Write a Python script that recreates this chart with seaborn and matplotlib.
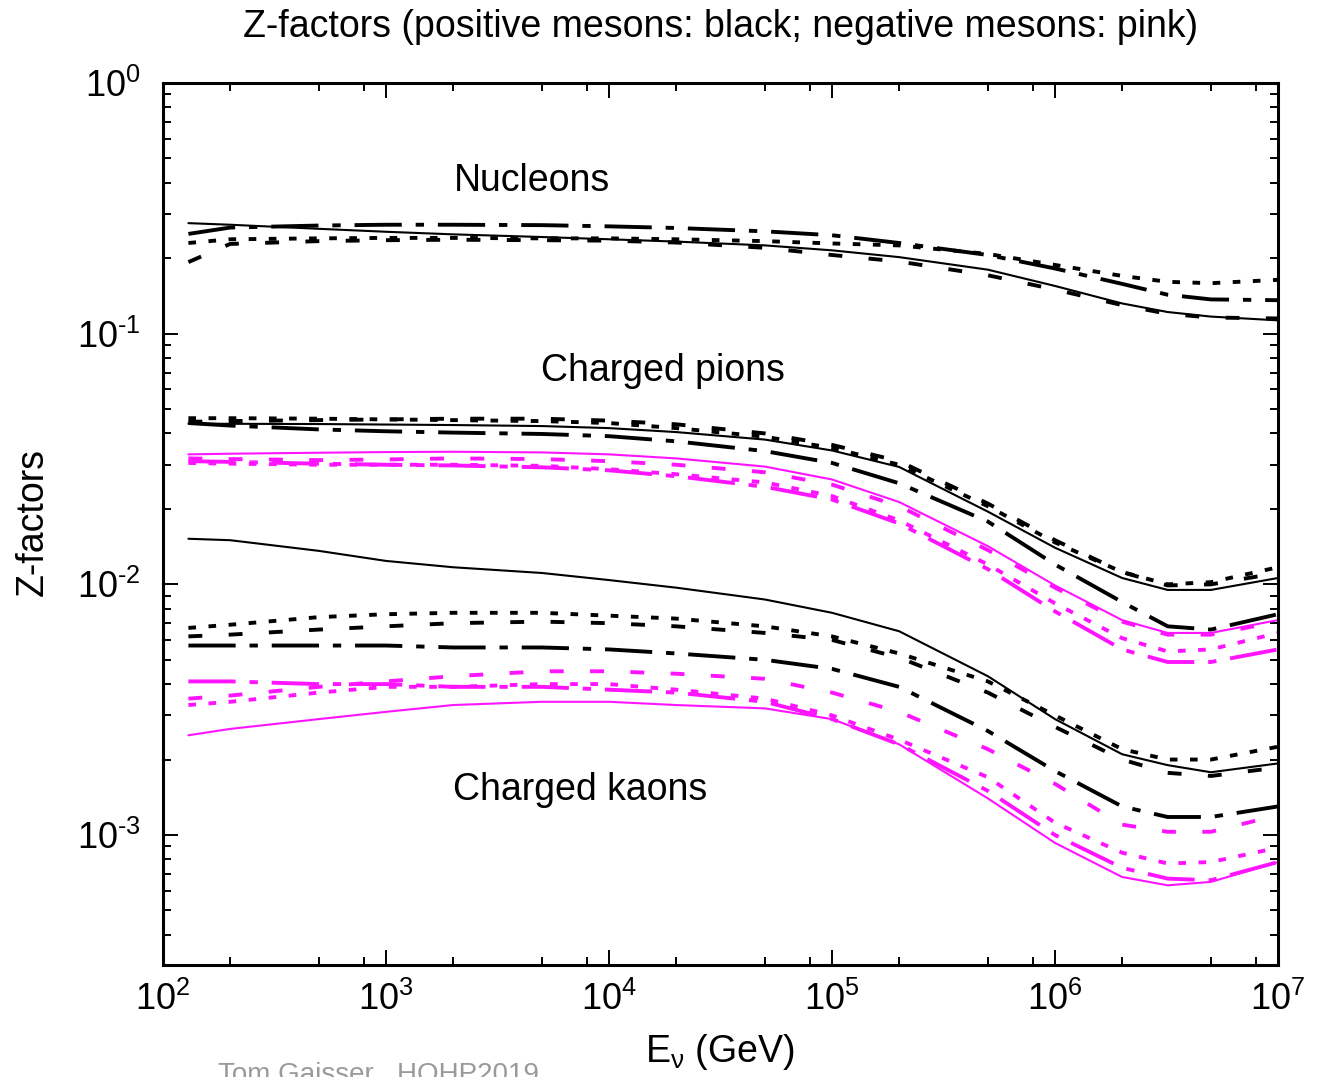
import numpy as np
import pandas as pd
import matplotlib
matplotlib.use("Agg")
import matplotlib.pyplot as plt
from matplotlib.ticker import LogLocator, FuncFormatter, NullFormatter
import seaborn as sns

# Neutrino energy grid (GeV)
energy = [1.3e2, 2e2, 5e2, 1e3, 2e3, 5e3, 1e4, 2e4, 5e4, 1e5, 2e5, 5e5,
          1e6, 2e6, 3.2e6, 5e6, 1e7]

# Nucleons (black)
nuc_solid = [0.276, 0.272, 0.262, 0.255, 0.249, 0.243, 0.238, 0.233, 0.225, 0.215,
             0.202, 0.180, 0.155, 0.132, 0.122, 0.117, 0.113]
nuc_dashed = [0.193, 0.228, 0.234, 0.236, 0.237, 0.236, 0.235, 0.231, 0.220, 0.206,
              0.194, 0.171, 0.150, 0.130, 0.120, 0.116, 0.115]
nuc_dotted = [0.230, 0.238, 0.240, 0.241, 0.241, 0.240, 0.240, 0.238, 0.234, 0.229,
              0.225, 0.208, 0.188, 0.170, 0.161, 0.159, 0.164]
nuc_dashdot = [0.250, 0.265, 0.270, 0.272, 0.272, 0.271, 0.268, 0.264, 0.256, 0.247,
               0.230, 0.206, 0.182, 0.158, 0.143, 0.137, 0.136]

# Charged pions, positive (black)
pip_solid = [0.0437, 0.0437, 0.0436, 0.0434, 0.0432, 0.0428, 0.0420, 0.0405, 0.0378,
             0.0342, 0.0294, 0.0195, 0.0140, 0.0106, 0.0095, 0.0095, 0.0106]
pip_dashed = [0.0445, 0.0448, 0.0452, 0.0455, 0.0458, 0.0458, 0.0450, 0.0435, 0.0400,
              0.0360, 0.0310, 0.0210, 0.0150, 0.0112, 0.0099, 0.0100, 0.0111]
pip_dotted = [0.0460, 0.0460, 0.0458, 0.0455, 0.0452, 0.0448, 0.0440, 0.0420, 0.0388,
              0.0350, 0.0300, 0.0205, 0.0147, 0.0112, 0.0100, 0.0102, 0.0117]
pip_dashdot = [0.0440, 0.0430, 0.0415, 0.0408, 0.0403, 0.0398, 0.0390, 0.0372, 0.0340,
               0.0305, 0.0253, 0.0178, 0.0120, 0.0085, 0.0068, 0.0066, 0.0076]

# Charged pions, negative (pink)
pim_solid = [0.0330, 0.0332, 0.0335, 0.0337, 0.0338, 0.0336, 0.0330, 0.0318, 0.0295,
             0.0262, 0.0213, 0.0142, 0.0099, 0.0072, 0.0064, 0.0064, 0.0072]
pim_dashed = [0.0318, 0.0316, 0.0313, 0.0315, 0.0318, 0.0316, 0.0310, 0.0300, 0.0280,
              0.0250, 0.0205, 0.0137, 0.0097, 0.0071, 0.0063, 0.0063, 0.0071]
pim_dotted = [0.0305, 0.0303, 0.0300, 0.0300, 0.0300, 0.0297, 0.0288, 0.0275, 0.0255,
              0.0225, 0.0180, 0.0120, 0.0084, 0.0061, 0.0054, 0.0055, 0.0064]
pim_dashdot = [0.0310, 0.0308, 0.0303, 0.0300, 0.0298, 0.0293, 0.0285, 0.0270, 0.0245,
               0.0218, 0.0175, 0.0115, 0.0078, 0.0055, 0.0049, 0.0049, 0.0055]

# Charged kaons, positive (black)
kp_solid = [0.0152, 0.0150, 0.0136, 0.0124, 0.0117, 0.0111, 0.0104, 0.0097, 0.0087,
            0.0077, 0.0065, 0.0043, 0.0029, 0.0021, 0.0019, 0.00178, 0.00193]
kp_dashed = [0.0062, 0.0063, 0.0066, 0.0068, 0.0070, 0.0071, 0.0070, 0.0068, 0.0064,
             0.0060, 0.0051, 0.0037, 0.0027, 0.0020, 0.00177, 0.00172, 0.00186]
kp_dotted = [0.0067, 0.0069, 0.0074, 0.0076, 0.0077, 0.0077, 0.0075, 0.0073, 0.0068,
             0.0062, 0.0053, 0.0041, 0.0030, 0.0022, 0.0020, 0.0020, 0.00225]
kp_dashdot = [0.0057, 0.0057, 0.0057, 0.0057, 0.0056, 0.0056, 0.0055, 0.0053, 0.0050,
              0.0046, 0.0039, 0.0026, 0.0018, 0.0013, 0.00118, 0.00118, 0.0013]

# Charged kaons, negative (pink)
km_solid = [0.0025, 0.00265, 0.0029, 0.0031, 0.0033, 0.0034, 0.0034, 0.0033, 0.0032,
            0.0029, 0.0023, 0.0014, 0.00093, 0.00068, 0.00063, 0.00065, 0.00078]
km_dashed = [0.0035, 0.0036, 0.0039, 0.0041, 0.0043, 0.0045, 0.0045, 0.0044, 0.0042,
             0.0037, 0.0031, 0.0022, 0.0016, 0.0011, 0.00103, 0.00103, 0.0012]
km_dotted = [0.0033, 0.0034, 0.0037, 0.0039, 0.0039, 0.0040, 0.0040, 0.0038, 0.0035,
             0.0030, 0.0024, 0.0017, 0.00112, 0.00085, 0.00077, 0.00078, 0.00089]
km_dashdot = [0.0041, 0.0041, 0.0040, 0.0040, 0.0039, 0.0039, 0.0038, 0.0037, 0.0034,
              0.0029, 0.0023, 0.0015, 0.0010, 0.00074, 0.00067, 0.00066, 0.00078]

group_labels = ["Nucleons", "Charged pions", "Charged kaons"]
x_ticks = [1e2, 1e3, 1e4, 1e5, 1e6, 1e7]
y_ticks = [1e-3, 1e-2, 1e-1, 1e0]

BLACK = "black"
PINK = "#ff14ff"

curves = [
    (nuc_solid, BLACK, "solid"), (nuc_dashed, BLACK, "dashed"),
    (nuc_dotted, BLACK, "dotted"), (nuc_dashdot, BLACK, "dashdot"),
    (pip_solid, BLACK, "solid"), (pip_dashed, BLACK, "dashed"),
    (pip_dotted, BLACK, "dotted"), (pip_dashdot, BLACK, "dashdot"),
    (pim_solid, PINK, "solid"), (pim_dashed, PINK, "dashed"),
    (pim_dotted, PINK, "dotted"), (pim_dashdot, PINK, "dashdot"),
    (kp_solid, BLACK, "solid"), (kp_dashed, BLACK, "dashed"),
    (kp_dotted, BLACK, "dotted"), (kp_dashdot, BLACK, "dashdot"),
    (km_solid, PINK, "solid"), (km_dashed, PINK, "dashed"),
    (km_dotted, PINK, "dotted"), (km_dashdot, PINK, "dashdot"),
]

sns.set_theme(style="ticks")
plt.rcParams["font.family"] = ["Liberation Sans", "DejaVu Sans"]
plt.rcParams["mathtext.fontset"] = "custom"
plt.rcParams["mathtext.rm"] = "Liberation Sans"
plt.rcParams["mathtext.it"] = "Liberation Sans:italic"
plt.rcParams["mathtext.default"] = "regular"
plt.rcParams["lines.scale_dashes"] = False
plt.rcParams["text.color"] = "black"
plt.rcParams["xtick.color"] = "black"
plt.rcParams["ytick.color"] = "black"

# line styles in points: (linewidth, dash pattern)
styles = {
    "solid": (1.5, "-"),
    "dashed": (2.8, (0, (10, 19))),
    "dotted": (2.8, (0, (5.5, 9))),
    "dashdot": (2.8, (0, (34, 10, 6, 10))),
}

W, H = 1325, 1077
fig = plt.figure(figsize=(W / 100, H / 100), dpi=100)
ax = fig.add_axes([163 / W, 1 - 965 / H, (1278 - 163) / W, (965 - 83) / H])

for vals, color, style in curves:
    lw, ls = styles[style]
    df = pd.DataFrame({"E": energy, "Z": vals})
    sns.lineplot(data=df, x="E", y="Z", ax=ax, color=color, linewidth=lw,
                 linestyle=ls, estimator=None, sort=False, legend=False)

ax.set_xscale("log")
ax.set_yscale("log")
ax.set_xlim(1e2, 1e7)
ax.set_ylim(3.03e-4, 1.0)

ax.xaxis.set_minor_locator(LogLocator(base=10, subs=[2.0, 5.0, 8.0], numticks=20))
ax.yaxis.set_minor_locator(LogLocator(base=10, subs=np.arange(2, 10), numticks=20))
ax.set_xticks(x_ticks)
ax.set_yticks(y_ticks)


def pow10(v, pos):
    e = int(round(np.log10(v)))
    sign = "\u2010" if e < 0 else ""
    return r"$10^{%s%d}$" % (sign, abs(e))


ax.xaxis.set_major_formatter(FuncFormatter(pow10))
ax.yaxis.set_major_formatter(FuncFormatter(pow10))
ax.xaxis.set_minor_formatter(NullFormatter())
ax.yaxis.set_minor_formatter(NullFormatter())

ax.tick_params(which="both", direction="in", top=True, right=True,
               colors="black", width=1.4)
ax.tick_params(which="major", length=11)
ax.tick_params(which="minor", length=5.5)
ax.tick_params(axis="x", which="major", labelsize=26, pad=12)
ax.tick_params(axis="y", which="major", labelsize=26, pad=16)
for sp in ax.spines.values():
    sp.set_linewidth(2.2)
    sp.set_color("black")
ax.set_facecolor("white")
ax.set_xlabel("")
ax.set_ylabel("")

# group labels
ax.text(4.5e3, 0.407, group_labels[0], fontsize=27, ha="center", va="center")
ax.text(1.75e4, 0.0710, group_labels[1], fontsize=27, ha="center", va="center")
ax.text(7.4e3, 0.00151, group_labels[2], fontsize=27, ha="center", va="center")

fig.text(721 / W, 1 - 27 / H,
         "Z-factors (positive mesons: black; negative mesons: pink)",
         fontsize=27, ha="center", va="center")
fig.text(33 / W, 1 - 522 / H, "Z-factors", fontsize=27, rotation=90,
         ha="center", va="center")
fig.text(720 / W, 1 - 1052 / H, r"E$_\nu$ (GeV)", fontsize=27,
         ha="center", va="center")
fig.text(218 / W, 1 - 1062 / H, "Tom Gaisser   HOHP2019", fontsize=20,
         color="#9a9a9a", ha="left", va="top")

fig.savefig("out.png", dpi=100, facecolor="white")
